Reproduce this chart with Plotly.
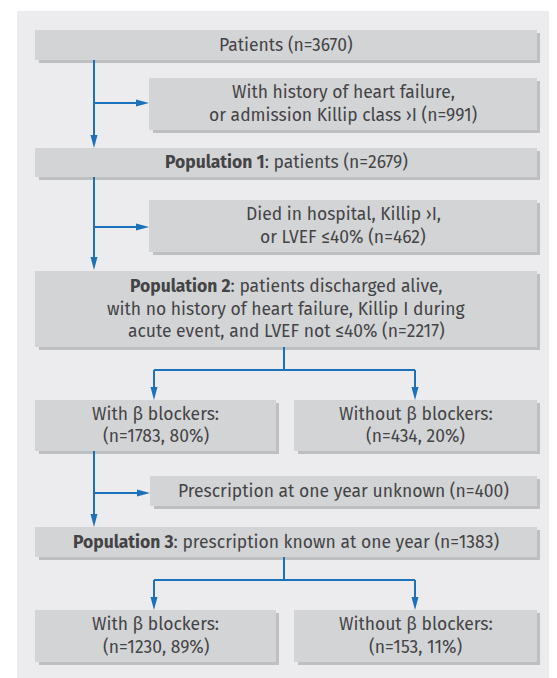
import plotly.graph_objects as go

# ---------------- data ----------------
patients_n = 3670
excluded_hf_n = 991
population1_n = 2679
excluded_died_n = 462
population2_n = 2217
pop2_with_bb_n = 1783
pop2_with_bb_pct = 80
pop2_without_bb_n = 434
pop2_without_bb_pct = 20
unknown_rx_n = 400
population3_n = 1383
pop3_with_bb_n = 1230
pop3_with_bb_pct = 89
pop3_without_bb_n = 153
pop3_without_bb_pct = 11

box_lines = [
    [f"Patients (n={patients_n})"],
    ["With history of heart failure,", f"or admission Killip class \u203aI (n={excluded_hf_n})"],
    [f"<b>Population 1</b>: patients (n={population1_n})"],
    ["Died in hospital, Killip \u203aI,", f"or LVEF \u226440% (n={excluded_died_n})"],
    ["<b>Population 2</b>: patients discharged alive,",
     "with no history of heart failure, Killip I during",
     f"acute event, and LVEF not \u226440% (n={population2_n})"],
    ["With \u03b2 blockers:", f"(n={pop2_with_bb_n}, {pop2_with_bb_pct}%)"],
    ["Without \u03b2 blockers:", f"(n={pop2_without_bb_n}, {pop2_without_bb_pct}%)"],
    [f"Prescription at one year unknown (n={unknown_rx_n})"],
    [f"<b>Population 3</b>: prescription known at one year (n={population3_n})"],
    ["With \u03b2 blockers:", f"(n={pop3_with_bb_n}, {pop3_with_bb_pct}%)"],
    ["Without \u03b2 blockers:", f"(n={pop3_without_bb_n}, {pop3_without_bb_pct}%)"],
]

# ---------------- layout (pixel geometry, page coordinates) ----------------
PAGE_W, PAGE_H = 557, 678
OFF = 8  # browser default body margin
box_geom = [
    (35, 30, 537, 60),
    (149, 78, 537, 130),
    (35, 148, 537, 177),
    (149, 200, 537, 252),
    (35, 271, 537, 347),
    (35, 400, 276, 451),
    (294, 400, 537, 451),
    (150, 476, 537, 506),
    (35, 527, 537, 557),
    (35, 610, 276, 662),
    (294, 610, 537, 662),
]

BG = "#ececee"
FILL = "#d3d4d6"
SHADOW = "#bebfc1"
BLUE = "#1b72ba"
TXT = "#444446"
FONT = "Fira Sans, Open Sans, Noto Sans, sans-serif"
FS = 17.5
LINE_GAP = 22.5

shapes = []
annotations = []

# panel
shapes.append(dict(type="rect", x0=17, y0=11, x1=PAGE_W, y1=PAGE_H, fillcolor=BG,
                   line=dict(width=0), layer="below"))

for (x0, y0, x1, y1), lines in zip(box_geom, box_lines):
    shapes.append(dict(type="rect", x0=x0 + 4, y0=y0 + 3, x1=x1 + 3, y1=y1 + 3,
                       fillcolor=SHADOW, line=dict(width=0), layer="below"))
    shapes.append(dict(type="rect", x0=x0, y0=y0, x1=x1, y1=y1,
                       fillcolor=FILL, line=dict(width=0), layer="below"))
    cx = (x0 + x1) / 2
    cy = (y0 + y1) / 2
    n = len(lines)
    for i, t in enumerate(lines):
        yy = cy + (i - (n - 1) / 2) * LINE_GAP
        annotations.append(dict(x=cx, y=yy, xref="x", yref="y", text=t,
                                showarrow=False, xanchor="center", yanchor="middle",
                                font=dict(family=FONT, size=FS, color=TXT)))


def line(xa, ya, xb, yb):
    shapes.append(dict(type="line", x0=xa, y0=ya, x1=xb, y1=yb,
                       line=dict(color=BLUE, width=2), layer="above"))


def head(xt, yt, direction):
    L, Wd = 13, 3.5
    if direction == "down":
        p = f"M {xt},{yt} L {xt - Wd},{yt - L} L {xt + Wd},{yt - L} Z"
    else:  # right
        p = f"M {xt},{yt} L {xt - L},{yt - Wd} L {xt - L},{yt + Wd} Z"
    shapes.append(dict(type="path", path=p, fillcolor=BLUE, line=dict(width=0),
                       layer="above"))


X_MAIN = 94
line(X_MAIN, 60, X_MAIN, 136); head(X_MAIN, 148, "down")
line(X_MAIN, 103, 138, 103); head(149, 103, "right")
line(X_MAIN, 177, X_MAIN, 258); head(X_MAIN, 270, "down")
line(X_MAIN, 227, 138, 227); head(149, 227, "right")
line(284, 347, 284, 370)
line(154, 370, 415, 370)
line(154, 370, 154, 389); head(154, 400, "down")
line(415, 370, 415, 389); head(415, 400, "down")
line(X_MAIN, 451, X_MAIN, 515); head(X_MAIN, 527, "down")
line(X_MAIN, 493, 139, 493); head(150, 493, "right")
line(284, 557, 284, 580)
line(154, 580, 415, 580)
line(154, 580, 154, 599); head(154, 610, "down")
line(415, 580, 415, 599); head(415, 610, "down")

fig = go.Figure()
fig.add_trace(go.Scatter(x=[OFF, PAGE_W], y=[OFF, PAGE_H], mode="markers",
                         marker=dict(opacity=0), hoverinfo="skip", showlegend=False))
fig.update_layout(
    width=PAGE_W - OFF, height=PAGE_H - OFF, margin=dict(l=0, r=0, t=0, b=0),
    paper_bgcolor="white", plot_bgcolor="white",
    xaxis=dict(range=[OFF, PAGE_W], visible=False, fixedrange=True),
    yaxis=dict(range=[PAGE_H, OFF], visible=False, fixedrange=True),
    shapes=shapes, annotations=annotations, showlegend=False,
)
fig.write_html("out.html")
